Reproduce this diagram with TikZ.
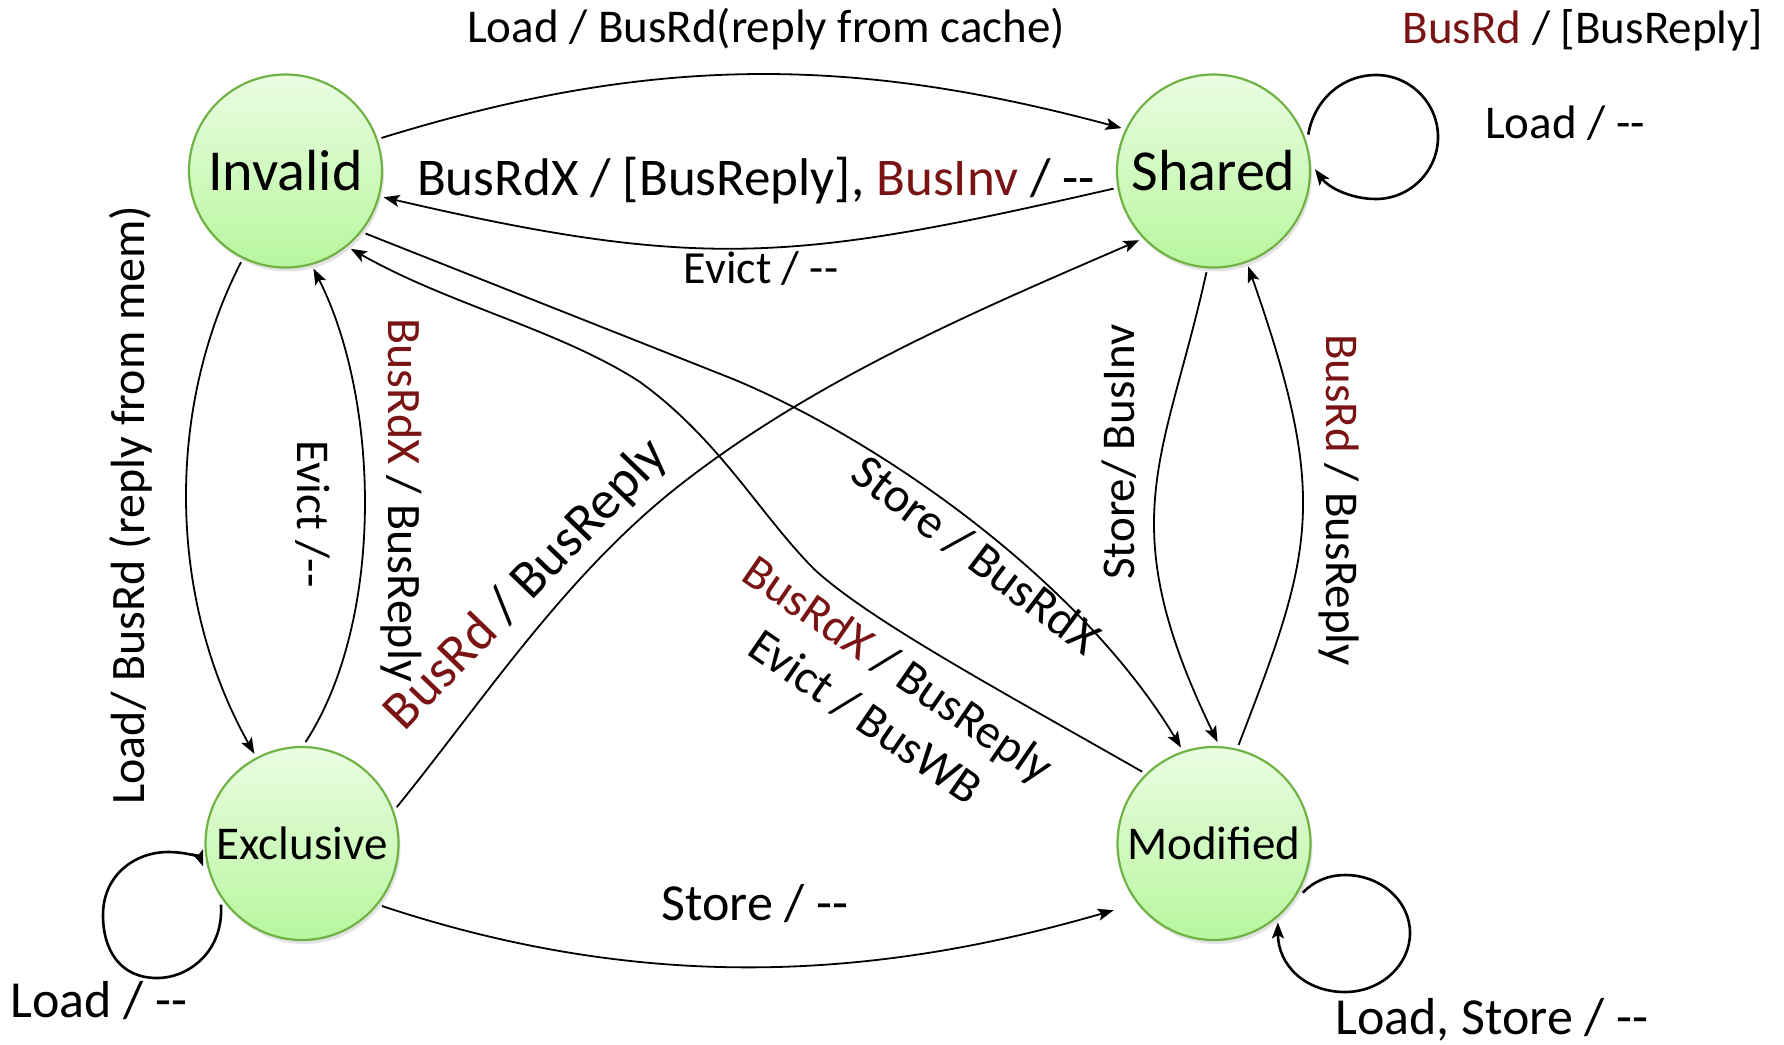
\documentclass[tikz,border=0pt]{standalone}
\usepackage{fontspec}
\setmainfont{Carlito}
\usetikzlibrary{arrows.meta,shadows}
\definecolor{brd}{RGB}{122,20,20}
\definecolor{stbord}{RGB}{112,178,70}
\definecolor{sttop}{RGB}{234,253,226}
\definecolor{stbot}{RGB}{184,246,158}
\newcommand\fsz[2]{\fontsize{#1}{#2}\selectfont}
\newcommand\dd{\mbox{-}\mbox{-}}
\begin{document}
\begin{tikzpicture}[x=1pt,y=-1pt,
  stnode/.style={circle, minimum size=193pt, inner sep=0pt, outer sep=5pt,
    draw=stbord, line width=2.2pt, top color=sttop, bottom color=stbot,
    drop shadow={opacity=0.22, shadow xshift=2pt, shadow yshift=-4pt}},
  tr/.style={-{Stealth[length=16pt,width=12pt,inset=3.5pt]}, line width=1.8pt},
  loopst/.style={-{Stealth[length=16pt,width=12pt,inset=3.5pt]}, line width=2.6pt},
  lbl/.style={inner sep=0pt, font=\fsz{47}{56}}]
\fill[white] (0,0) rectangle (1784,1044);
\useasboundingbox (0,0) rectangle (1784,1044);

\node[stnode, font=\fsz{58}{70}] (I) at (285.5,171) {Invalid};
\node[stnode, font=\fsz{58}{70}] (S) at (1213.5,171) {Shared};
\node[stnode, font=\fsz{47}{56}] (E) at (302,843.5) {Exclusive};
\node[stnode, font=\fsz{47}{56}] (M) at (1214,843.5) {Modified};

\draw[tr] (I.19) .. controls (650,55) and (850,55) .. (S.155);
\draw[tr] (S.190) .. controls (797,261) and (705,272) .. (I.-15);
\draw[loopst] (S.21) .. controls (1314,100) and (1342,75) .. (1376,75)
  .. controls (1410,75) and (1438,103) .. (1438,137)
  .. controls (1438,171) and (1410,199) .. (1376,199)
  .. controls (1350,199) and (1328,187) .. (S.1);
\draw[tr] (I.-116) .. controls (165,410) and (168,600) .. (E.118);
\draw[tr] (E.88) .. controls (385,620) and (380,400) .. (I.-74.5);
\draw[tr] (M.135) .. controls (990,685) and (870,620) .. (815,570)
  .. controls (760,515) and (720,440) .. (640,382)
  .. controls (560,330) and (450,305) .. (I.-50);
\draw[tr] (I.-38) -- (733,379) .. controls (880,440) and (1080,580) .. (M.109);
\draw[tr] (E.21) .. controls (483,701) and (565,575) .. (680,485)
  .. controls (818,377) and (983,308) .. (S.223);
\draw[tr] (S.-94) .. controls (1165,460) and (1110,520) .. (M.88);
\draw[tr] (M.76) .. controls (1313,552) and (1330,500) .. (S.-70);
\draw[loopst] (E.217) .. controls (224,950) and (190,978) .. (157,978)
  .. controls (120,978) and (103,950) .. (103,915)
  .. controls (103,875) and (135,852) .. (168,852)
  .. controls (188,852) and (200,858) .. (E.193);
\draw[tr, shorten >=20pt] (E.-38) .. controls (650,995) and (880,978) .. (M.217);
\draw[loopst] (M.-29) .. controls (1315,880) and (1330,875) .. (1345,875)
  .. controls (1381,875) and (1410,901) .. (1410,933)
  .. controls (1410,965) and (1381,992) .. (1345,992)
  .. controls (1305,992) and (1278,965) .. (M.-51);

\node[lbl, anchor=base] (l1) at (766,42) {Load / BusRd(reply from cache)};
\node[lbl, anchor=base, font=\fsz{53}{63}] (l2) at (756,195) {BusRdX / [BusReply], {\color{brd}BusInv} / \dd};
\node[lbl, anchor=base, font=\fsz{46}{55}] (l3) at (761,283) {Evict / \dd};
\node[lbl, anchor=base] (l4) at (1583,43) {{\color{brd}BusRd} / [BusReply]};
\node[lbl, anchor=base] (l5) at (1565,138) {Load / \dd};
\node[lbl, rotate=90, font=\fsz{48}{57}] (l6) at (131,505) {Load/ BusRd (reply from mem)};
\node[lbl, rotate=-90] (l7) at (313,514) {Evict /\dd};
\node[lbl, rotate=-90, font=\fsz{48}{57}] (l8) at (401,500) {{\color{brd}BusRdX} / BusReply};
\node[lbl, rotate=46, font=\fsz{54}{64}] (l9) at (527,585) {{\color{brd}BusRd} / BusReply};
\node[lbl, rotate=-37, font=\fsz{49}{59}] (l10) at (976,555) {Store / BusRdX};
\node[lbl, rotate=-34.5, font=\fsz{48}{58}, align=center] (l11) at (882,693) {{\color{brd}BusRdX} / BusReply\\Evict / BusWB};
\node[lbl, rotate=90] (l12) at (1119,452) {Store/ BusInv};
\node[lbl, rotate=-90] (l13) at (1339,500) {{\color{brd}BusRd} / BusReply};
\node[lbl, anchor=base, font=\fsz{52}{62}] (l14) at (99,1017) {Load / \dd};
\node[lbl, anchor=base, font=\fsz{52}{62}] (l15) at (755,920) {Store / \dd};
\node[lbl, anchor=base, font=\fsz{52}{62}] (l16) at (1492,1034) {Load, Store / \dd};
\end{tikzpicture}
\end{document}
